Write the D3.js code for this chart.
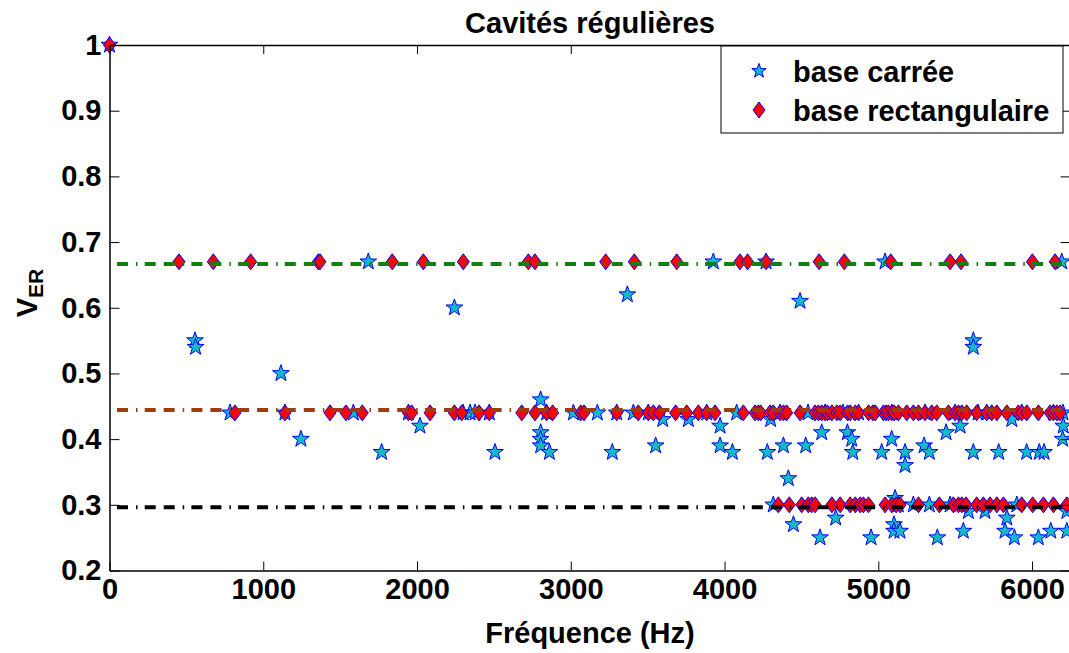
<!DOCTYPE html>
<html><head><meta charset="utf-8">
<script src="https://cdn.jsdelivr.net/npm/d3@7"></script>
<style>
html,body{margin:0;padding:0;background:#fff;}
svg{display:block;}
text{font-family:"Liberation Sans",Arial,Helvetica,sans-serif;font-weight:bold;}
</style></head>
<body>
<svg id="chart" width="1069" height="653"></svg>
<script>
// ---------- data ----------
const chartTitle = "Cavités régulières";
const xLabel = "Fréquence (Hz)";
const xTicks = [0, 1000, 2000, 3000, 4000, 5000, 6000];
const yTicks = [0.2, 0.3, 0.4, 0.5, 0.6, 0.7, 0.8, 0.9, 1];
const seriesNames = ["base carrée", "base rectangulaire"];
const refLevels = [2/3, 4/9, 8/27];
const refColors = ["#118011", "#9e3d0b", "#000000"];

// base carrée (stars): frequency, value
const carreeFreq = [0,
  1683, 3927, 4270, 5044, 6193,
  3368, 4491, 2243,
  556, 560, 5618, 5618,
  1115, 2804,
  784, 1586, 2300, 2345, 2377, 3017, 3173, 3407, 4079, 4543, 4771, 5649, 6201,
  1141, 1944, 2470, 2843, 3299, 3504, 3884, 4361, 4654, 4872, 5088, 5304, 5499, 5705, 5933, 6139,
  3598, 3765, 4300, 5868,
  2019, 3971, 5532, 6203,
  2804, 4632, 4799, 5441,
  1245, 2804, 4827, 5087, 6199,
  2804, 3552, 3971, 4383, 4528, 5298,
  1770, 2507, 2861, 3270, 4051, 4278, 4834, 5022, 5174, 5332, 5618, 5783, 5965, 6047, 6078,
  5174, 4415, 5109,
  4317, 5130, 5228, 5332, 5467, 5901,
  5586, 5694, 6226,
  4723, 5836,
  4448, 5102,
  5102, 5141, 5553, 5824, 6122, 6226,
  4621, 4953, 5384, 5885, 6041];
const carreeValue = [1.0,
  0.67, 0.67, 0.67, 0.67, 0.67,
  0.62, 0.61, 0.60,
  0.55, 0.54, 0.55, 0.54,
  0.50, 0.46,
  0.44, 0.44, 0.44, 0.44, 0.44, 0.44, 0.44, 0.44, 0.44, 0.44, 0.44, 0.44, 0.44,
  0.44, 0.44, 0.44, 0.44, 0.44, 0.44, 0.44, 0.44, 0.44, 0.44, 0.44, 0.44, 0.44, 0.44, 0.44, 0.44,
  0.43, 0.43, 0.43, 0.43,
  0.42, 0.42, 0.42, 0.42,
  0.41, 0.41, 0.41, 0.41,
  0.40, 0.40, 0.40, 0.40, 0.40,
  0.39, 0.39, 0.39, 0.39, 0.39, 0.39,
  0.38, 0.38, 0.38, 0.38, 0.38, 0.38, 0.38, 0.38, 0.38, 0.38, 0.38, 0.38, 0.38, 0.38, 0.38,
  0.36, 0.34, 0.31,
  0.30, 0.30, 0.30, 0.30, 0.30, 0.30,
  0.29, 0.29, 0.29,
  0.28, 0.28,
  0.27, 0.27,
  0.26, 0.26, 0.26, 0.26, 0.26, 0.26,
  0.25, 0.25, 0.25, 0.25, 0.25];

// base rectangulaire (diamonds): frequency, value
const rectFreq = [0,
  452, 675, 918, 1358, 1369, 1839, 2041, 2301, 2724, 2767, 3227, 3413, 3689, 4100, 4150, 4270, 4615, 4779, 5081, 5467, 5538, 6002, 6150,
  816, 1141, 1434, 1538, 1644, 1944, 1965, 2085, 2243, 2291, 2403, 2470, 2681, 2767, 2843, 2882, 3065, 3086, 3299, 3439, 3504, 3537, 3576, 3682, 3754, 3830, 3884, 3938,
  4122, 4198, 4220, 4235, 4296, 4317, 4361, 4383, 4404, 4491, 4589, 4611, 4633, 4654, 4669, 4698, 4730, 4752, 4800, 4817, 4850, 4872, 4937, 4965, 4980,
  5034, 5051, 5066, 5088, 5103, 5131, 5185, 5228, 5261, 5304, 5348, 5380, 5456, 5499, 5521, 5543, 5575, 5640, 5705, 5738, 5771, 5836, 5911, 5933, 5966, 6041, 6117, 6139, 6161, 6182,
  4350, 4421, 4502, 4545, 4567, 4589, 4698, 4752, 4817, 4850, 4882, 4903, 4936, 5044, 5088, 5116, 5142,
  5261, 5397, 5488, 5521, 5543, 5571, 5640, 5683, 5727, 5771, 5814, 5933, 6004, 6074, 6139, 6226];
const rectValue = [1.0,
  0.67, 0.67, 0.67, 0.67, 0.67, 0.67, 0.67, 0.67, 0.67, 0.67, 0.67, 0.67, 0.67, 0.67, 0.67, 0.67, 0.67, 0.67, 0.67, 0.67, 0.67, 0.67, 0.67,
  0.44, 0.44, 0.44, 0.44, 0.44, 0.44, 0.44, 0.44, 0.44, 0.44, 0.44, 0.44, 0.44, 0.44, 0.44, 0.44, 0.44, 0.44, 0.44, 0.44, 0.44, 0.44, 0.44, 0.44, 0.44, 0.44, 0.44, 0.44,
  0.44, 0.44, 0.44, 0.44, 0.44, 0.44, 0.44, 0.44, 0.44, 0.44, 0.44, 0.44, 0.44, 0.44, 0.44, 0.44, 0.44, 0.44, 0.44, 0.44, 0.44, 0.44, 0.44, 0.44, 0.44,
  0.44, 0.44, 0.44, 0.44, 0.44, 0.44, 0.44, 0.44, 0.44, 0.44, 0.44, 0.44, 0.44, 0.44, 0.44, 0.44, 0.44, 0.44, 0.44, 0.44, 0.44, 0.44, 0.44, 0.44, 0.44, 0.44, 0.44, 0.44, 0.44, 0.44,
  0.30, 0.30, 0.30, 0.30, 0.30, 0.30, 0.30, 0.30, 0.30, 0.30, 0.30, 0.30, 0.30, 0.30, 0.30, 0.30, 0.30,
  0.30, 0.30, 0.30, 0.30, 0.30, 0.30, 0.30, 0.30, 0.30, 0.30, 0.30, 0.30, 0.30, 0.30, 0.30, 0.30];

// ---------- drawing ----------
const svg = d3.select("#chart");
const L = 109.5, R = 1070.5, T = 45, B = 570.5;
const FS = 29;
const x = d3.scaleLinear().domain([0, 6250]).range([L, R]);
const y = d3.scaleLinear().domain([0.2, 1]).range([B, T]);

const starColor = "#14bac6", edge = "#0000ff", diamondColor = "#ff0000";

function starPath(Ro) {
  const ri = Ro * 0.4, pts = [];
  for (let i = 0; i < 10; i++) {
    const a = -Math.PI / 2 + i * Math.PI / 5;
    const rr = i % 2 === 0 ? Ro : ri;
    pts.push([rr * Math.cos(a), rr * Math.sin(a)]);
  }
  return "M" + pts.map(p => p[0].toFixed(2) + "," + p[1].toFixed(2)).join("L") + "Z";
}
function diamondPath(w, h) {
  return `M0,${-h}L${w},0L0,${h}L${-w},0Z`;
}
const STAR = starPath(8.8), DIAM = diamondPath(6, 8);

const clip = svg.append("defs").append("clipPath").attr("id", "clip")
  .append("rect").attr("x", L - 12).attr("y", T - 12).attr("width", R - L + 24).attr("height", B - T + 24);

const plot = svg.append("g").attr("clip-path", "url(#clip)");

const carree = carreeFreq.map((f, i) => ({f, v: carreeValue[i]}));
const rect = rectFreq.map((f, i) => ({f, v: rectValue[i]}));

plot.selectAll("path.star").data(carree).enter().append("path")
  .attr("class", "star").attr("d", STAR)
  .attr("transform", d => `translate(${x(d.f)},${y(d.v)})`)
  .attr("fill", starColor).attr("stroke", edge).attr("stroke-width", 1);

plot.selectAll("path.diam").data(rect).enter().append("path")
  .attr("class", "diam").attr("d", DIAM)
  .attr("transform", d => `translate(${x(d.f)},${y(d.v)})`)
  .attr("fill", diamondColor).attr("stroke", edge).attr("stroke-width", 1);

// reference dash-dot lines
svg.selectAll("line.ref").data(refLevels).enter().append("line")
  .attr("class", "ref")
  .attr("x1", x(0)).attr("x2", x(6250))
  .attr("y1", d => y(d)).attr("y2", d => y(d))
  .attr("stroke", (d, i) => refColors[i]).attr("stroke-width", 4)
  .attr("stroke-dasharray", "11 8 11 8 1.5 7.2").attr("stroke-dashoffset", 11.5);

// axes
const gx = svg.append("g").attr("transform", `translate(0,${B})`)
  .call(d3.axisBottom(x).tickValues(xTicks).tickSizeInner(-9).tickSizeOuter(0).tickPadding(8).tickFormat(d3.format("d")));
const gxt = svg.append("g").attr("transform", `translate(0,${T})`)
  .call(d3.axisTop(x).tickValues(xTicks).tickSizeInner(-9).tickSizeOuter(0).tickFormat(""));
const gy = svg.append("g").attr("transform", `translate(${L},0)`)
  .call(d3.axisLeft(y).tickValues(yTicks).tickSizeInner(-10).tickSizeOuter(0).tickPadding(8).tickFormat(d => d === 1 ? "1" : d3.format(".1f")(d)));
const gyr = svg.append("g").attr("transform", `translate(${R},0)`)
  .call(d3.axisRight(y).tickValues(yTicks).tickSizeInner(-10).tickSizeOuter(0).tickFormat(""));
[gx, gxt, gy, gyr].forEach(g => {
  g.select(".domain").attr("stroke", "#000").attr("stroke-width", 1.5);
  g.selectAll(".tick line").attr("stroke", "#000").attr("stroke-width", 1);
  g.selectAll("text").attr("font-size", FS).attr("fill", "#000")
    .attr("font-family", '"Liberation Sans",Arial,sans-serif').attr("font-weight", "bold");
});

// title and labels
svg.append("text").attr("x", 590).attr("y", 33).attr("text-anchor", "middle")
  .attr("font-size", FS).text(chartTitle);
svg.append("text").attr("x", 590).attr("y", 643).attr("text-anchor", "middle")
  .attr("font-size", FS).text(xLabel);
const yl = svg.append("text").attr("transform", "translate(37,293) rotate(-90)")
  .attr("text-anchor", "middle").attr("font-size", FS);
yl.append("tspan").text("V");
yl.append("tspan").attr("font-size", 21).attr("dy", 6).text("ER");

// legend
const lg = svg.append("g");
lg.append("rect").attr("x", 721).attr("y", 46).attr("width", 342).attr("height", 87)
  .attr("fill", "#fff").attr("stroke", "#000").attr("stroke-width", 1);
lg.append("path").attr("d", starPath(7.6)).attr("transform", "translate(759,71)")
  .attr("fill", starColor).attr("stroke", edge).attr("stroke-width", 1);
lg.append("path").attr("d", DIAM).attr("transform", "translate(759,110)")
  .attr("fill", diamondColor).attr("stroke", edge).attr("stroke-width", 1);
lg.append("text").attr("x", 793).attr("y", 81.5).attr("font-size", FS).text(seriesNames[0]);
lg.append("text").attr("x", 793).attr("y", 120.5).attr("font-size", FS).text(seriesNames[1]);
</script>
</body></html>
